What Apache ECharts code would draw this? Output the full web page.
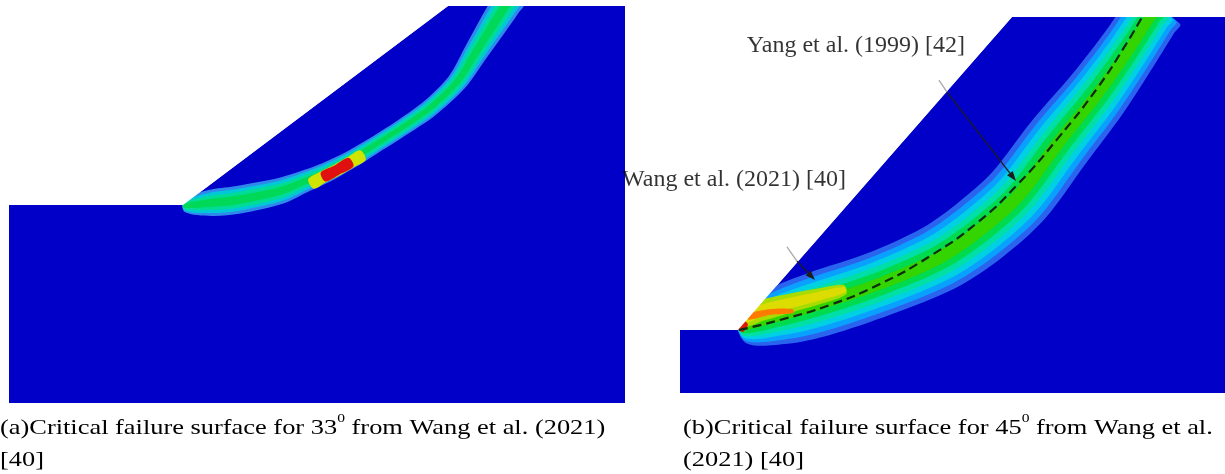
<!DOCTYPE html>
<html>
<head>
<meta charset="utf-8">
<script src="https://cdn.jsdelivr.net/npm/echarts@6/dist/echarts.min.js"></script>
<style>
  html, body { margin: 0; padding: 0; background: #ffffff; }
  #chart { width: 1225px; height: 474px; }
</style>
</head>
<body>
<div id="chart"></div>
<script>
// All geometry in metres.

// ---------- Slope (a), 33 degrees ----------
const slopeA = [[0, 0], [0, 19.8], [17.4, 19.8], [43.9, 39.7], [61.6, 39.7], [61.6, 0]];
const airA = [[0, 19.8], [17.4, 19.8], [43.9, 39.7], [0, 39.7]];
// shear band centre line and its half thickness
const bandA_path = [[17.5, 19.7], [20.1, 20.0], [22.8, 20.3], [27.1, 21.2], [29.4, 22.1], [31.8, 23.1],
  [34.1, 24.3], [36.1, 25.5], [39.4, 27.6], [42.1, 29.5], [44.8, 32.1], [46.7, 35.1], [48.4, 37.8],
  [49.6, 39.7], [50.2, 40.7]];
const bandA_half = [0.6, 1.3, 1.4, 1.3, 1.1, 1.0, 0.9, 0.85, 0.85, 0.9, 1.0, 1.2, 1.4, 1.5, 1.5];
const bandA_levels = [1.0, 0.78, 0.55, 0.3];
// high-strain zone in the middle of the band
const hotA_yellow = [[30.2, 21.9], [31.4, 22.6], [32.8, 23.3], [34.2, 24.1], [35.4, 24.8]];
const hotA_yellow_half = [0.55, 0.6, 0.6, 0.6, 0.55];
const hotA_red = [[31.4, 22.6], [32.8, 23.3], [34.2, 24.1]];
const hotA_red_half = [0.5, 0.52, 0.5];

// ---------- Slope (b), 45 degrees ----------
const slopeB = [[0, 0], [0, 4.02], [3.72, 4.02], [21.32, 24], [35, 24], [35, 0]];
const airB = [[0, 4.02], [3.72, 4.02], [21.32, 24], [0, 24]];
const bandB_path = [[3.92, 4.15], [6.36, 4.91], [8.93, 5.68], [12.78, 6.96], [16.63, 8.62], [19.27, 10.40],
  [21.71, 12.57], [24.28, 15.95], [26.85, 19.14], [28.90, 22.02], [30.19, 24.0], [30.57, 24.57]];
const bandB_half = [1.0, 1.85, 2.1, 2.1, 2.2, 2.25, 2.25, 2.2, 2.05, 1.9, 1.85, 1.85];
const bandB_levels = [1.0, 0.84, 0.68, 0.52, 0.36, 0.18];
// concentration near the toe
const toeB_path = [[4.05, 4.66], [5.14, 5.23], [7.07, 5.74], [8.99, 6.19], [10.6, 6.6]];
const toeB_half = [0.45, 0.65, 0.6, 0.5, 0.3];
const toeB_levels = [1.0, 0.55];
const streakB = [[4.37, 4.85], [5.78, 5.17], [7.26, 5.23]];
const streakB_half = [0.18, 0.18, 0.12];
const tipB = [[3.79, 4.08], [4.17, 4.53]];
const tipB_half = [0.3, 0.25];
// critical slip surface (log-spiral) of Yang et al.
const slipYang = [[3.79, 4.02], [6.42, 4.66], [9.63, 5.62], [12.85, 6.96], [16.06, 8.74], [19.14, 10.91],
  [21.71, 13.34], [24.28, 16.27], [26.85, 19.53], [28.65, 22.27], [29.67, 23.99]];
// annotation arrows: start, slope-face crossing, tip
const arrowsB = [[16.63, 19.97, 17.15, 19.21, 21.58, 13.53], [6.87, 9.32, 7.51, 8.42, 8.67, 7.21]];
const labelsB = [
  { value: [11.30, 22.14], name: 'Yang et al. (1999) [42]' },
  { value: [3.47, 13.59], name: 'Wang et al. (2021) [40]' }
];

// ---------- captions ----------
const captionA = ['(a)Critical failure surface for 33', '0', ' from Wang et al. (2021)', '[40]'];
const captionB = ['(b)Critical failure surface for 45', '0', ' from Wang et al.', '(2021) [40]'];

const SOIL = '#0000c8';
const colorsA = ['#3088ec', '#00c8d8', '#00dc98', '#00d858'];
const colorsB = ['#2a64ee', '#0aa0ff', '#00d0e4', '#00e0a6', '#00da4e', '#34d400'];
const colorsToeB = ['#a8dc00', '#dcdc00'];
const SERIF = '"Liberation Serif", "Times New Roman", serif';

function polygonSeries(pts, axis, fill, z) {
  return {
    type: 'custom', xAxisIndex: axis, yAxisIndex: axis, z: z, silent: true, clip: true,
    data: pts,
    renderItem: function (params, api) {
      if (params.dataIndex !== 0) return null;
      return { type: 'polygon', shape: { points: pts.map(function (p) { return api.coord(p); }) },
        style: { fill: fill } };
    }
  };
}

// offset a centre line on both sides to get a closed ribbon outline (pixels)
function ribbon(api, path, half, frac) {
  const P = path.map(function (p) { return api.coord(p); });
  const s = api.size([1, 1]);
  const k = (s[0] + s[1]) / 2;
  const L = [], R = [];
  for (let i = 0; i < P.length; i++) {
    const a = P[Math.max(0, i - 1)], b = P[Math.min(P.length - 1, i + 1)];
    let tx = b[0] - a[0], ty = b[1] - a[1];
    const len = Math.hypot(tx, ty) || 1;
    tx /= len; ty /= len;
    const h = half[i] * frac * k;
    L.push([P[i][0] - ty * h, P[i][1] + tx * h]);
    R.push([P[i][0] + ty * h, P[i][1] - tx * h]);
  }
  return L.concat(R.reverse());
}

function bandSeries(path, half, levels, colors, axis, z) {
  return {
    type: 'custom', xAxisIndex: axis, yAxisIndex: axis, z: z, silent: true, clip: true,
    data: levels.map(function (f) { return [f]; }),
    encode: { x: -1, y: -1 },
    renderItem: function (params, api) {
      return { type: 'polygon',
        shape: { points: ribbon(api, path, half, api.value(0)), smooth: 0.3 },
        style: { fill: colors[params.dataIndex] } };
    }
  };
}

const arrowSeries = {
  type: 'custom', xAxisIndex: 1, yAxisIndex: 1, z: 7, silent: true,
  data: arrowsB,
  encode: { x: -1, y: -1 },
  renderItem: function (params, api) {
    const p0 = api.coord([api.value(0), api.value(1)]);
    const p1 = api.coord([api.value(2), api.value(3)]);
    const p2 = api.coord([api.value(4), api.value(5)]);
    let dx = p2[0] - p1[0], dy = p2[1] - p1[1];
    const len = Math.hypot(dx, dy); dx /= len; dy /= len;
    const hl = 10, hw = 3.5;
    const base = [p2[0] - dx * hl, p2[1] - dy * hl];
    return { type: 'group', children: [
      { type: 'line', shape: { x1: p0[0], y1: p0[1], x2: p1[0], y2: p1[1] },
        style: { stroke: '#a8a8a8', lineWidth: 1.3 } },
      { type: 'line', shape: { x1: p1[0], y1: p1[1], x2: base[0], y2: base[1] },
        style: { stroke: '#1c1c1c', lineWidth: 1.3 } },
      { type: 'polygon', shape: { points: [p2,
          [base[0] - dy * hw, base[1] + dx * hw], [base[0] + dy * hw, base[1] - dx * hw]] },
        style: { fill: '#1c1c1c' } }
    ] };
  }
};

function caption(parts, x, y) {
  return {
    type: 'text', x: x, y: y, scaleX: 1.2, silent: true,
    style: {
      text: '{t|' + parts[0] + '}{s|' + parts[1] + '}{t|' + parts[2] + '}\n{t|' + parts[3] + '}',
      rich: {
        t: { fontFamily: SERIF, fontSize: 22, lineHeight: 32, fill: '#000' },
        s: { fontFamily: SERIF, fontSize: 13, lineHeight: 14, verticalAlign: 'top', fill: '#000' }
      }
    }
  };
}

const chart = echarts.init(document.getElementById('chart'), null, { renderer: 'canvas' });
chart.setOption({
  animation: false,
  backgroundColor: '#ffffff',
  grid: [
    { left: 9, top: 6, width: 616, height: 397 },
    { left: 680, top: 17, width: 545, height: 376 }
  ],
  xAxis: [
    { gridIndex: 0, type: 'value', min: 0, max: 61.6, show: false },
    { gridIndex: 1, type: 'value', min: 0, max: 35, show: false }
  ],
  yAxis: [
    { gridIndex: 0, type: 'value', min: 0, max: 39.7, show: false },
    { gridIndex: 1, type: 'value', min: 0, max: 24, show: false }
  ],
  series: [
    polygonSeries(slopeA, 0, SOIL, 1),
    bandSeries(bandA_path, bandA_half, bandA_levels, colorsA, 0, 2),
    bandSeries(hotA_yellow, hotA_yellow_half, [1.0], ['#d0e400'], 0, 3),
    bandSeries(hotA_red, hotA_red_half, [1.0], ['#e01010'], 0, 3),
    polygonSeries(airA, 0, '#ffffff', 5),

    polygonSeries(slopeB, 1, SOIL, 1),
    bandSeries(bandB_path, bandB_half, bandB_levels, colorsB, 1, 2),
    bandSeries(toeB_path, toeB_half, toeB_levels, colorsToeB, 1, 3),
    bandSeries(streakB, streakB_half, [1.0], ['#ff7a00'], 1, 3),
    bandSeries(tipB, tipB_half, [1.0], ['#e01a00'], 1, 3),
    polygonSeries(airB, 1, '#ffffff', 5),
    {
      type: 'line', xAxisIndex: 1, yAxisIndex: 1, z: 6, silent: true,
      data: slipYang, smooth: true, symbol: 'none',
      lineStyle: { color: '#102a14', width: 2.2, type: [9, 5] }
    },
    arrowSeries,
    {
      type: 'scatter', xAxisIndex: 1, yAxisIndex: 1, z: 8, silent: true,
      data: labelsB, symbolSize: 0,
      label: { show: true, position: 'inside', formatter: '{b}', fontFamily: SERIF, fontSize: 24, color: '#000' }
    }
  ],
  graphic: [
    caption(captionA, 0, 412),
    caption(captionB, 683, 412)
  ]
});
</script>
</body>
</html>
